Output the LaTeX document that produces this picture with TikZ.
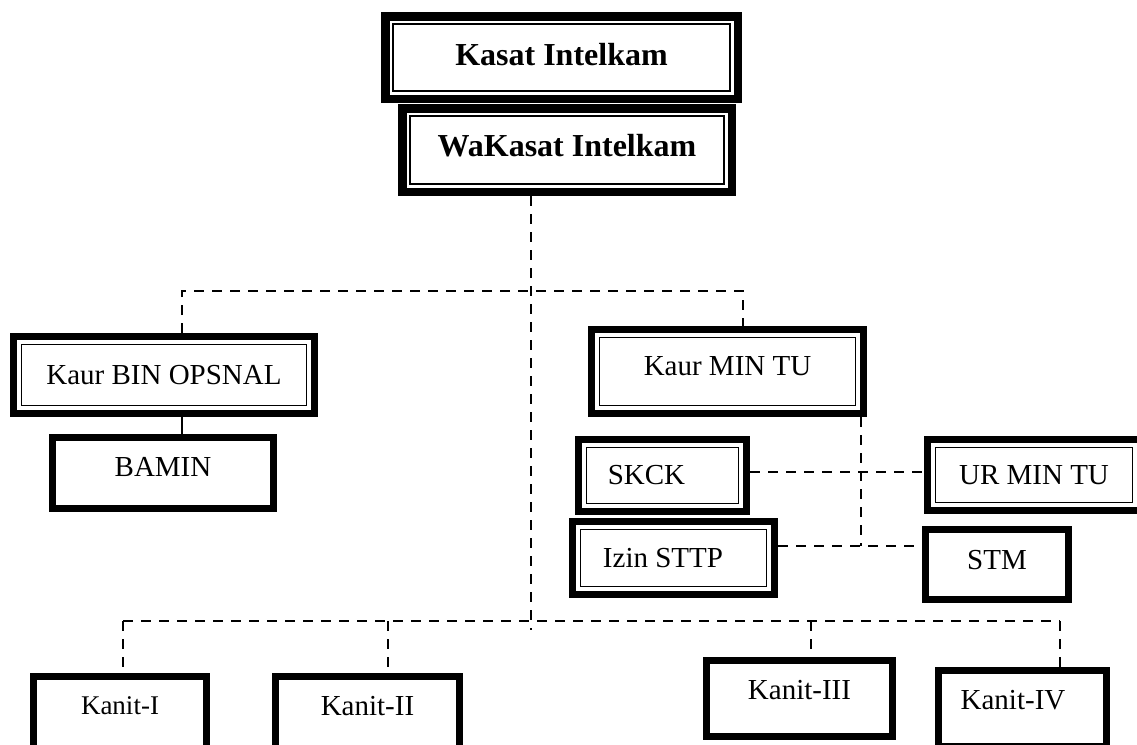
\documentclass[tikz,border=0pt]{standalone}
\usepackage{fontspec}
\setmainfont{Liberation Serif}
\pgfdeclarelayer{edgelayer}
\pgfdeclarelayer{nodelayer}
\pgfsetlayers{edgelayer,nodelayer,main}
\tikzstyle{none}=[inner sep=0pt]
\tikzstyle{unit}=[rectangle,draw=black,fill=white,line width=7pt,inner sep=0pt,font=\fontsize{29}{32}\selectfont]
\tikzstyle{chief}=[unit,line width=8.5pt,font=\fontsize{32}{35}\selectfont\bfseries]
\tikzstyle{kanit}=[unit,minimum height=76pt,text depth=18pt]
\tikzset{rim/.style={path picture={\draw [line width=1.8pt] ([shift={(#1,#1)}]path picture bounding box.south west) rectangle ([shift={(-#1,-#1)}]path picture bounding box.north east);}},rim/.default=8pt}
\tikzstyle{dashline}=[-,draw=black,line width=2.4pt,dash pattern=on 10pt off 8pt]
\tikzstyle{solidline}=[-,draw=black,line width=2.4pt]

\begin{document}
\begin{tikzpicture}[x=1pt,y=-1pt]
	\useasboundingbox (0,0) rectangle (1137,744);
	\begin{pgfonlayer}{nodelayer}
		\node [style=chief, rim=8pt, minimum width=352.5pt, minimum height=82.5pt, text depth=7pt] (kasat) at (561.5, 57.5) {Kasat Intelkam};
		\node [style=chief, rim=8pt, minimum width=329.5pt, minimum height=83.5pt, text depth=10pt] (wakasat) at (567, 150) {WaKasat Intelkam};
		\node [style=unit, rim, minimum width=301pt, minimum height=77pt] (binops) at (164, 375) {Kaur BIN OPSNAL};
		\node [style=unit, minimum width=221pt, minimum height=71pt, text depth=12pt] (bamin) at (163, 473) {BAMIN};
		\node [style=unit, rim, minimum width=272pt, minimum height=84pt, text depth=11pt] (kmin) at (727.5, 371.5) {Kaur MIN TU};
		\node [style=unit, rim, minimum width=168pt, minimum height=72pt] (skck) at (662.5, 475.5) {SKCK\hspace*{32pt}};
		\node [style=unit, rim, minimum width=213pt, minimum height=71pt] (urmin) at (1034, 475) {UR MIN TU};
		\node [style=unit, rim, minimum width=202pt, minimum height=73pt] (izin) at (673.5, 558) {Izin STTP\hspace*{21pt}};
		\node [style=unit, minimum width=143pt, minimum height=70pt, text depth=10pt] (stm) at (997, 564.5) {STM};
		\node [style=kanit, minimum width=173pt, font=\fontsize{27}{30}\selectfont] (kanitI) at (120, 714.5) {Kanit-I};
		\node [style=kanit, minimum width=184pt] (kanitII) at (367.5, 714.5) {Kanit-II};
		\node [style=kanit, minimum width=186pt] (kanitIII) at (799.5, 698.5) {Kanit-III};
		\node [style=kanit, minimum width=168pt] (kanitIV) at (1022.5, 708.5) {Kanit-IV\hspace*{19pt}};
		\node [style=none] (hub) at (531, 630) {};
		\node [style=none] (jL) at (182, 291) {};
		\node [style=none] (jR) at (743, 291) {};
		\node [style=none] (jK) at (861, 472) {};
		\node [style=none] (jM) at (861, 546) {};
		\node [style=none] (bI) at (123, 621) {};
		\node [style=none] (bII) at (388, 621) {};
		\node [style=none] (bIII) at (811, 621) {};
		\node [style=none] (bIV) at (1060, 621) {};
	\end{pgfonlayer}
	\begin{pgfonlayer}{edgelayer}
		\fill [white] (0,0) rectangle (1137,744);
		\draw [style=dashline] (wakasat.south -| hub.center) to (hub.center);
		\draw [style=dashline] (binops.north -| jL.center) to (jL.center) to (jR.center) to (kmin.north -| jR.center);
		\draw [style=solidline] (binops.south -| jL.center) to (bamin.north -| jL.center);
		\draw [style=dashline] (kmin.south -| jM.center) to (jM.center);
		\draw [style=dashline] (skck.east |- jK.center) to (urmin.west |- jK.center);
		\draw [style=dashline] (izin.east |- jM.center) to (stm.west |- jM.center);
		\draw [style=dashline] (bI.center) to (bIV.center);
		\draw [style=dashline] (bI.center) to (kanitI.north -| bI.center);
		\draw [style=dashline] (bII.center) to (kanitII.north -| bII.center);
		\draw [style=dashline] (bIII.center) to (kanitIII.north -| bIII.center);
		\draw [style=dashline] (bIV.center) to (kanitIV.north -| bIV.center);
	\end{pgfonlayer}
\end{tikzpicture}
\end{document}
